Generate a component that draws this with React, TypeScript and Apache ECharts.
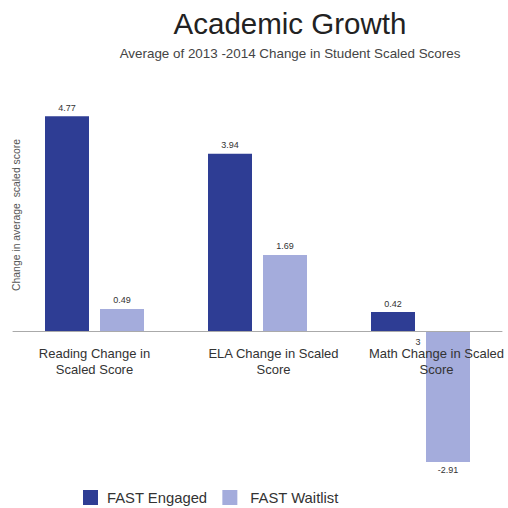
import React, { useEffect, useRef } from "react";
import * as echarts from "echarts";

const categories = ["Reading Change in\nScaled Score", "ELA Change in Scaled\nScore", "Math Change in Scaled\nScore"];
const seriesNames = ["FAST Engaged", "FAST Waitlist"];
const engaged = [4.77, 3.94, 0.42];
const waitlist = [0.49, 1.69, -2.91];
const colors = ["#2E3D94", "#A4ACDC"];

export default function App() {
  const ref = useRef<HTMLDivElement>(null);
  useEffect(() => {
    const chart = echarts.init(ref.current!, null, { renderer: "svg" });
    const font = "Arial, 'Liberation Sans', sans-serif";
    const labelCfg = {
      show: true,
      position: "outside" as any,
      distance: 4,
      fontSize: 9,
      color: "#333",
      fontFamily: font,
      formatter: (p: any) => p.value.toFixed(2),
    };
    chart.setOption({
      animation: false,
      title: {
        text: "Academic Growth",
        subtext: "Average of 2013 -2014 Change in Student Scaled Scores",
        left: 285,
        textAlign: "center",
        top: 3,
        itemGap: 9,
        textStyle: { fontSize: 29.5, fontWeight: "normal", color: "#222", fontFamily: font },
        subtextStyle: { fontSize: 13.4, color: "#444", fontFamily: font },
      },
      legend: {
        left: 78,
        top: 485,
        padding: 5,
        itemWidth: 15,
        itemHeight: 15,
        itemGap: 15,
        icon: "rect",
        formatter: (n: string) => (n === seriesNames[0] ? `{a|${n}}` : `{b|${n}}`),
        textStyle: {
          fontSize: 14.8,
          color: "#333",
          fontFamily: font,
          rich: {
            a: { fontSize: 14.8, color: "#333", fontFamily: font, padding: [0, 0, 0, 4] },
            b: { fontSize: 14.8, color: "#333", fontFamily: font, padding: [0, 0, 0, 8] },
          },
        },
        data: seriesNames,
      },
      grid: { left: 13, right: 6, top: 106, bottom: 42 },
      xAxis: {
        type: "category",
        data: categories,
        z: 10,
        axisLine: { lineStyle: { color: "#aaa" } },
        axisTick: { show: false },
        axisLabel: {
          interval: 0,
          margin: -121,
          color: "#333",
          fontSize: 13,
          fontFamily: font,
          lineHeight: 16,
          formatter: (v: string, i: number) => (i === 0 ? `{a|${v}}` : v.split("\n").map((s) => `{b|${s}}`).join("\n")),
          rich: {
            a: { fontSize: 13, lineHeight: 16, color: "#333", fontFamily: font },
            b: { fontSize: 13, lineHeight: 16, color: "#333", fontFamily: font, padding: [0, 0, 0, 32] },
          },
        },
      },
      yAxis: {
        type: "value",
        min: -3,
        max: 5,
        axisLine: { show: false },
        axisTick: { show: false },
        axisLabel: { show: false },
        splitLine: { show: false },
      },
      graphic: [
        {
          type: "text",
          x: 16,
          y: 215,
          rotation: Math.PI / 2,
          style: {
            text: "Change in average  scaled score",
            fontSize: 10.4,
            fill: "#555",
            fontFamily: font,
            align: "center",
            verticalAlign: "middle",
          },
        },
        {
          type: "text",
          x: 418,
          y: 342,
          z: 20,
          style: { text: "3", fontSize: 9, fill: "#333", fontFamily: font, align: "center", verticalAlign: "middle" },
        },
      ],
      series: [
        {
          name: seriesNames[0],
          type: "bar",
          data: engaged,
          barWidth: 44,
          barGap: "25%",
          itemStyle: { color: colors[0] },
          label: labelCfg,
          z: 1,
        },
        {
          name: seriesNames[1],
          type: "bar",
          data: waitlist,
          barWidth: 44,
          barGap: "25%",
          itemStyle: { color: colors[1] },
          label: labelCfg,
          z: 1,
        },
      ],
    });
    return () => chart.dispose();
  }, []);
  return <div ref={ref} style={{ width: 508, height: 508, position: "absolute", left: 0, top: 0 }} />;
}
